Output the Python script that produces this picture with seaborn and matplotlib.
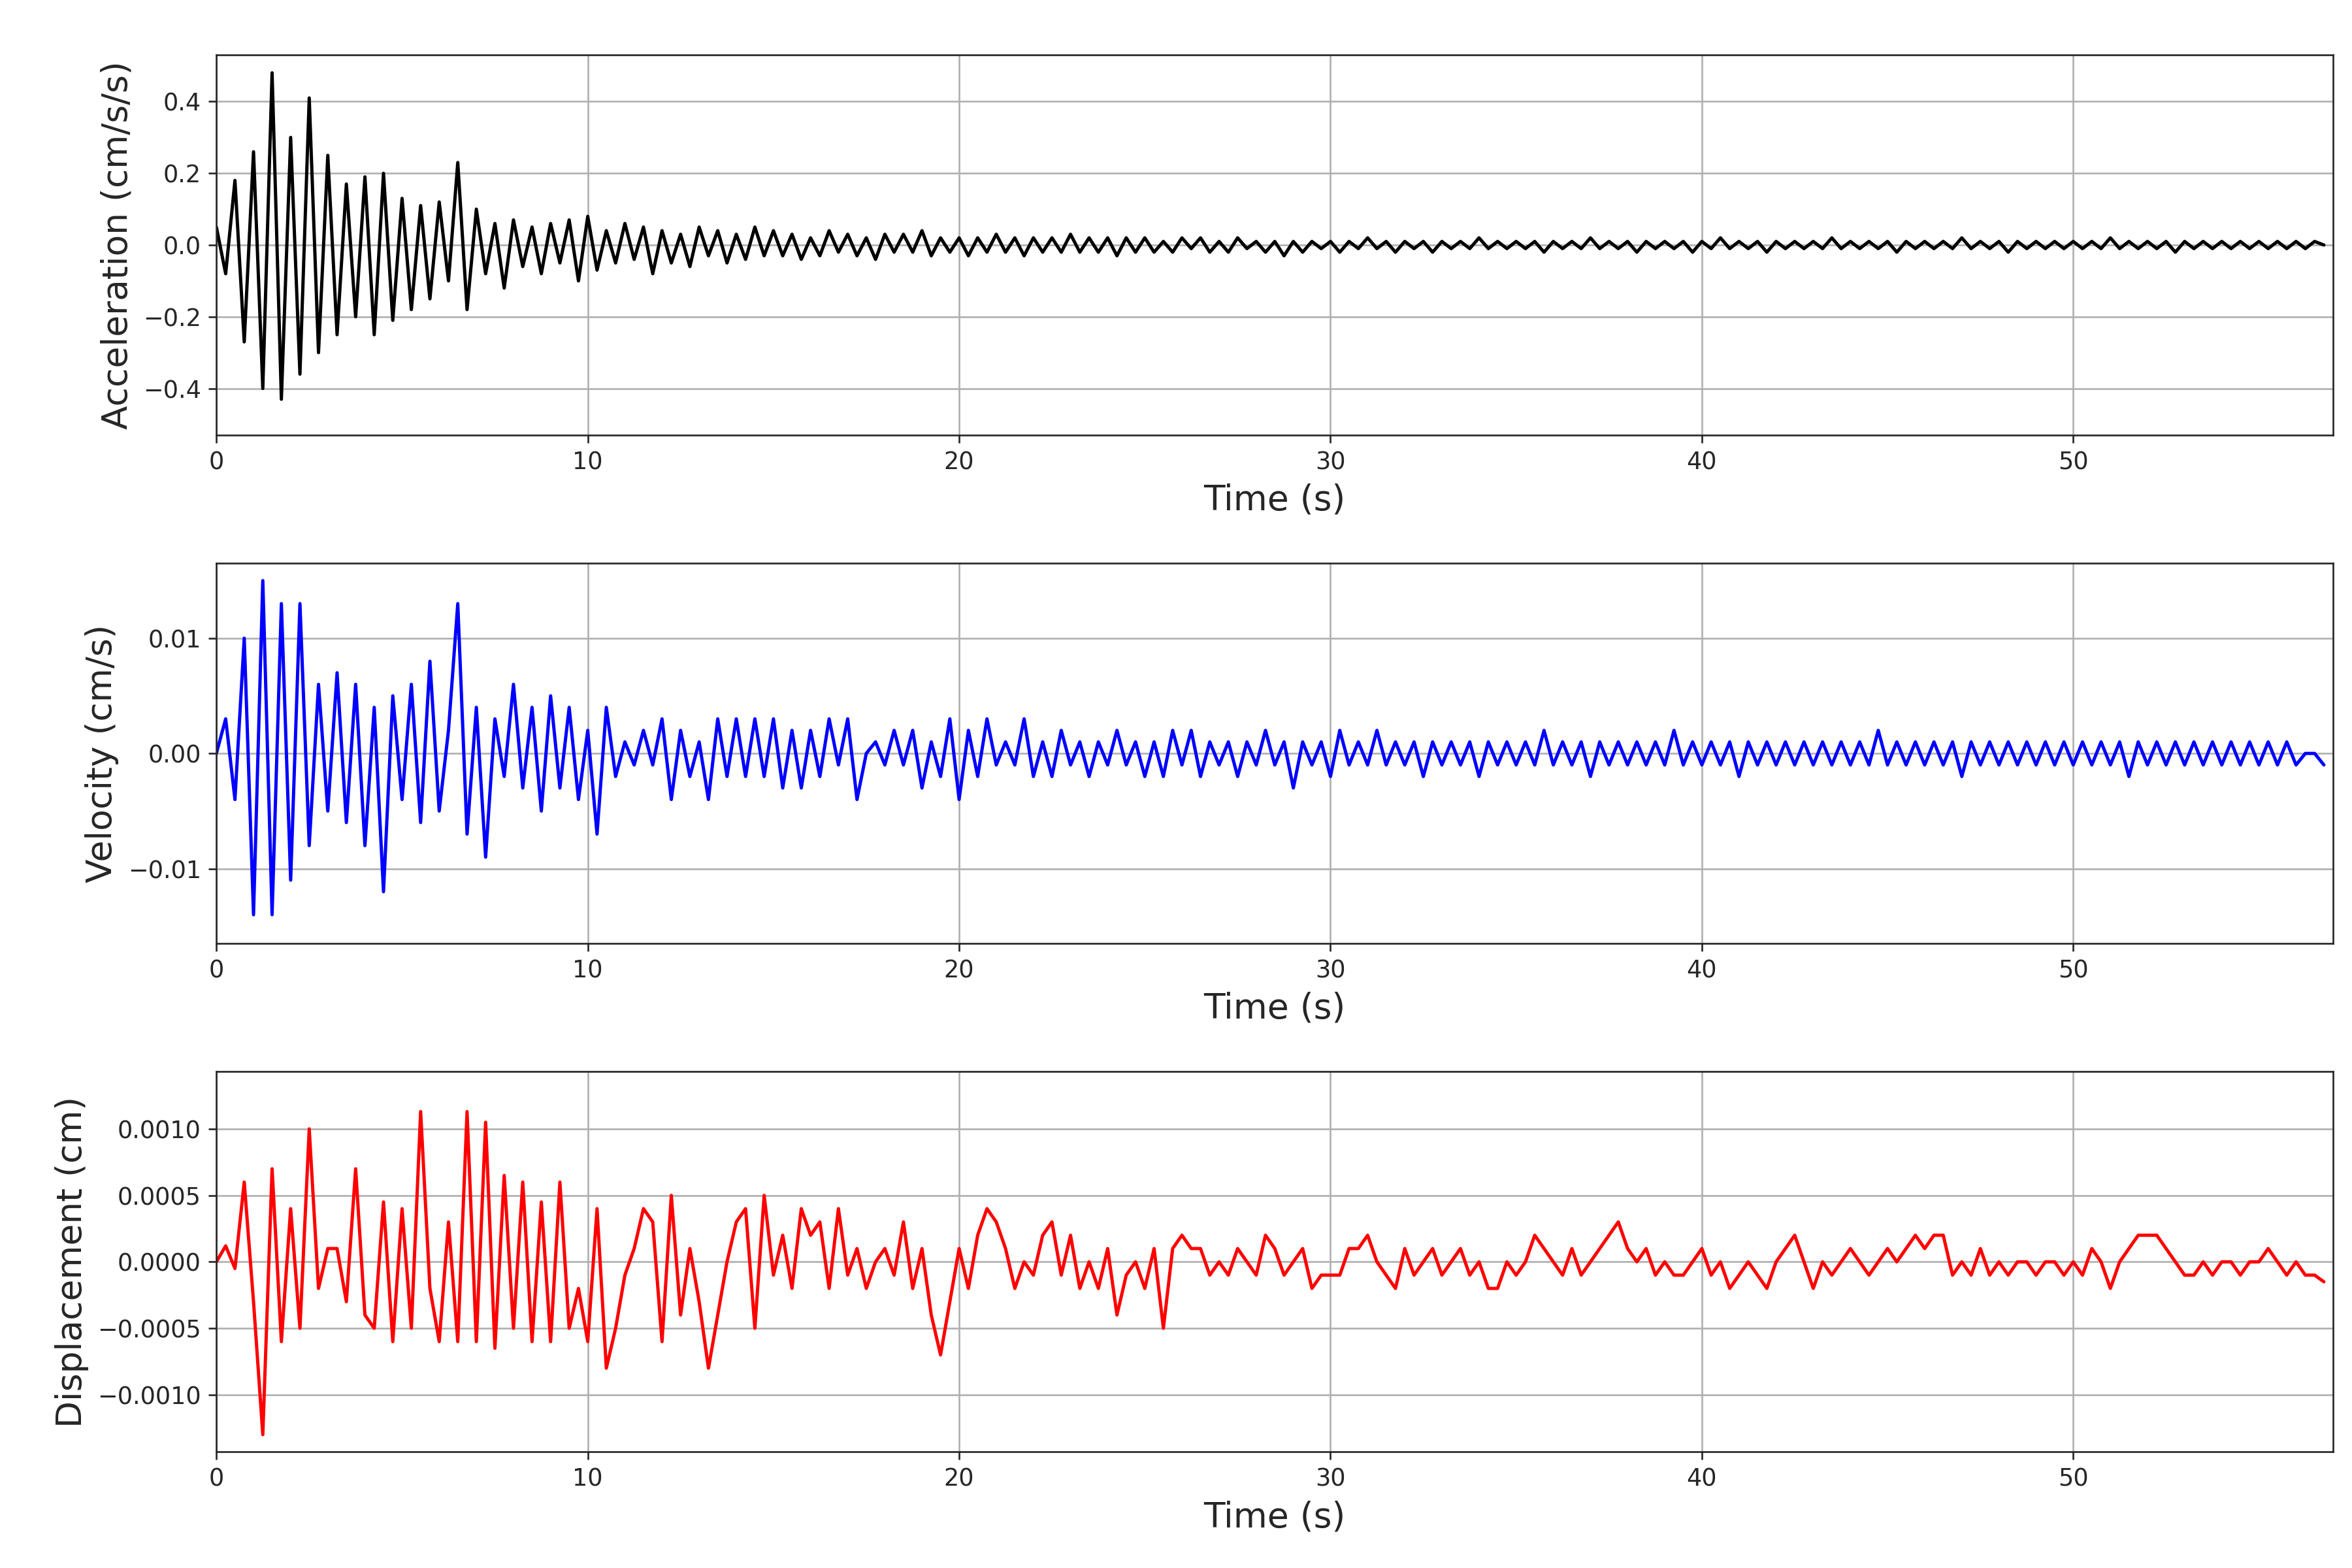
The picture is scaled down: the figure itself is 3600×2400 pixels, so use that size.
import numpy as np
import pandas as pd
import seaborn as sns
import matplotlib
matplotlib.use("Agg")
import matplotlib.pyplot as plt

dt = 0.25
acc = [0.05,-0.08,0.18,-0.27,0.26,-0.40,0.48,-0.43,0.30,-0.36,0.41,-0.30,0.25,-0.25,0.17,-0.20,0.19,-0.25,0.20,-0.21,
       0.13,-0.18,0.11,-0.15,0.12,-0.10,0.23,-0.18,0.10,-0.08,0.06,-0.12,0.07,-0.06,0.05,-0.08,0.06,-0.05,0.07,-0.10,
       0.08,-0.07,0.04,-0.05,0.06,-0.04,0.05,-0.08,0.04,-0.05,0.03,-0.06,0.05,-0.03,0.04,-0.05,0.03,-0.04,0.05,-0.03,
       0.04,-0.03,0.03,-0.04,0.02,-0.03,0.04,-0.02,0.03,-0.03,0.02,-0.04,0.03,-0.02,0.03,-0.02,0.04,-0.03,0.02,-0.02,
       0.02,-0.03,0.02,-0.02,0.03,-0.02,0.02,-0.03,0.02,-0.02,0.02,-0.02,0.03,-0.02,0.02,-0.02,0.02,-0.03,0.02,-0.02,
       0.02,-0.02,0.01,-0.02,0.02,-0.01,0.02,-0.02,0.01,-0.02,0.02,-0.01,0.01,-0.02,0.01,-0.03,0.01,-0.02,0.01,-0.01,
       0.01,-0.02,0.01,-0.01,0.02,-0.01,0.01,-0.02,0.01,-0.01,0.01,-0.02,0.01,-0.01,0.01,-0.01,0.02,-0.01,0.01,-0.01,
       0.01,-0.01,0.01,-0.02,0.01,-0.01,0.01,-0.01,0.02,-0.01,0.01,-0.01,0.01,-0.02,0.01,-0.01,0.01,-0.01,0.01,-0.02,
       0.01,-0.01,0.02,-0.01,0.01,-0.01,0.01,-0.02,0.01,-0.01,0.01,-0.01,0.01,-0.01,0.02,-0.01,0.01,-0.01,0.01,-0.01,
       0.01,-0.02,0.01,-0.01,0.01,-0.01,0.01,-0.01,0.02,-0.01,0.01,-0.01,0.01,-0.02,0.01,-0.01,0.01,-0.01,0.01,-0.01,
       0.01,-0.01,0.01,-0.01,0.02,-0.01,0.01,-0.01,0.01,-0.01,0.01,-0.02,0.01,-0.01,0.01,-0.01,0.01,-0.01,0.01,-0.01,
       0.01,-0.01,0.01,-0.01,0.01,-0.01,0.01,0.00]
vel = [0.000,0.003,-0.004,0.010,-0.014,0.015,-0.014,0.013,-0.011,0.013,-0.008,0.006,
       -0.005,0.007,-0.006,0.006,-0.008,0.004,-0.012,0.005,-0.004,0.006,-0.006,0.008,
       -0.005,0.002,0.013,-0.007,0.004,-0.009,0.003,-0.002,0.006,-0.003,0.004,-0.005,
       0.005,-0.003,0.004,-0.004,0.002,-0.007,0.004,-0.002,0.001,-0.001,0.002,-0.001,
       0.003,-0.004,0.002,-0.002,0.001,-0.004,0.003,-0.002,0.003,-0.002,0.003,-0.002,
       0.003,-0.003,0.002,-0.003,0.002,-0.002,0.003,-0.001,0.003,-0.004,0.000,0.001,-0.001,0.002,-0.001,0.002,-0.003,0.001,-0.002,0.003,
       -0.004,0.002,-0.002,0.003,-0.001,0.001,-0.001,0.003,-0.002,0.001,-0.002,0.002,-0.001,0.001,-0.002,0.001,-0.001,0.002,-0.001,0.001,
       -0.002,0.001,-0.002,0.002,-0.001,0.002,-0.002,0.001,-0.001,0.001,-0.002,0.001,-0.001,0.002,-0.001,0.001,-0.003,0.001,-0.001,0.001,
       -0.002,0.002,-0.001,0.001,-0.001,0.002,-0.001,0.001,-0.001,0.001,-0.002,0.001,-0.001,0.001,-0.001,0.001,-0.002,0.001,-0.001,0.001,
       -0.001,0.001,-0.001,0.002,-0.001,0.001,-0.001,0.001,-0.002,0.001,-0.001,0.001,-0.001,0.001,-0.001,0.001,-0.001,0.002,-0.001,0.001,
       -0.001,0.001,-0.001,0.001,-0.002,0.001,-0.001,0.001,-0.001,0.001,-0.001,0.001,-0.001,0.001,-0.001,0.001,-0.001,0.001,-0.001,0.002,
       -0.001,0.001,-0.001,0.001,-0.001,0.001,-0.001,0.001,-0.002,0.001,-0.001,0.001,-0.001,0.001,-0.001,0.001,-0.001,0.001,-0.001,0.001,
       -0.001,0.001,-0.001,0.001,-0.001,0.001,-0.002,0.001,-0.001,0.001,-0.001,0.001,-0.001,0.001,-0.001,0.001,-0.001,0.001,-0.001,0.001,
       -0.001,0.001,-0.001,0.001,-0.001,0.000,0.000,-0.001]
disp = [0.00000,0.00012,-0.00005,0.00060,-0.00030,-0.00130,0.00070,-0.00060,0.00040,-0.00050,0.00100,-0.00020,
        0.00010,0.00010,-0.00030,0.00070,-0.00040,-0.00050,0.00045,-0.00060,0.00040,-0.00050,0.00113,-0.00020,
        -0.00060,0.00030,-0.00060,0.00113,-0.00060,0.00105,-0.00065,0.00065,-0.00050,0.00060,-0.00060,0.00045,
        -0.00060,0.00060,-0.00050,-0.00020,-0.00060,0.00040,-0.00080,-0.00050,-0.00010,0.00010,0.00040,0.00030,
        -0.00060,0.00050,-0.00040,0.00010,-0.00030,-0.00080,-0.00040,0.00000,0.00030,0.00040,-0.00050,0.00050,
        -0.00010,0.00020,-0.00020,0.00040,0.00020,0.00030,-0.00020,0.00040,-0.00010,0.00010,-0.00020,0.00000,0.00010,-0.00010,0.00030,-0.00020,0.00010,-0.00040,-0.00070,-0.00030,
        0.00010,-0.00020,0.00020,0.00040,0.00030,0.00010,-0.00020,0.00000,-0.00010,0.00020,0.00030,-0.00010,0.00020,-0.00020,0.00000,-0.00020,0.00010,-0.00040,-0.00010,0.00000,
        -0.00020,0.00010,-0.00050,0.00010,0.00020,0.00010,0.00010,-0.00010,0.00000,-0.00010,0.00010,0.00000,-0.00010,0.00020,0.00010,-0.00010,0.00000,0.00010,-0.00020,-0.00010,
        -0.00010,-0.00010,0.00010,0.00010,0.00020,0.00000,-0.00010,-0.00020,0.00010,-0.00010,0.00000,0.00010,-0.00010,0.00000,0.00010,-0.00010,0.00000,-0.00020,-0.00020,0.00000,
        -0.00010,0.00000,0.00020,0.00010,0.00000,-0.00010,0.00010,-0.00010,0.00000,0.00010,0.00020,0.00030,0.00010,0.00000,0.00010,-0.00010,0.00000,-0.00010,-0.00010,0.00000,
        0.00010,-0.00010,0.00000,-0.00020,-0.00010,0.00000,-0.00010,-0.00020,0.00000,0.00010,0.00020,0.00000,-0.00020,0.00000,-0.00010,0.00000,0.00010,0.00000,-0.00010,0.00000,
        0.00010,0.00000,0.00010,0.00020,0.00010,0.00020,0.00020,-0.00010,0.00000,-0.00010,0.00010,-0.00010,0.00000,-0.00010,0.00000,0.00000,-0.00010,0.00000,0.00000,-0.00010,
        0.00000,-0.00010,0.00010,0.00000,-0.00020,0.00000,0.00010,0.00020,0.00020,0.00020,0.00010,0.00000,-0.00010,-0.00010,0.00000,-0.00010,0.00000,0.00000,-0.00010,0.00000,
        0.00000,0.00010,0.00000,-0.00010,0.00000,-0.00010,-0.00010,-0.00015]

series = [(acc, "black", "Acceleration (cm/s/s)"),
          (vel, "blue", "Velocity (cm/s)"),
          (disp, "red", "Displacement (cm)")]

sns.set_style("ticks")
fig, axes = plt.subplots(3, 1, figsize=(15, 10), dpi=240)
fig.subplots_adjust(left=0.092, right=0.992, top=0.965, bottom=0.074, hspace=0.337)
for ax, (vals, col, lab) in zip(axes, series):
    df = pd.DataFrame({"t": np.arange(len(vals)) * dt, "v": vals})
    sns.lineplot(data=df, x="t", y="v", ax=ax, color=col, linewidth=1.5)
    ax.set_xlim(0, 57)
    ax.grid(True, color="#b0b0b0", linewidth=0.8)
    ax.set_xlabel("Time (s)", fontsize=16)
    ax.set_ylabel(lab, fontsize=16)
    ax.tick_params(labelsize=11)
axes[0].set_yticks([-0.4, -0.2, 0.0, 0.2, 0.4])
axes[0].set_ylim(-0.53, 0.53)
axes[1].set_yticks([-0.01, 0.0, 0.01])
axes[1].set_ylim(-0.0165, 0.0165)
axes[2].set_yticks([-0.001, -0.0005, 0.0, 0.0005, 0.001])
axes[2].set_ylim(-0.00143, 0.00143)
fig.savefig("out.png")
